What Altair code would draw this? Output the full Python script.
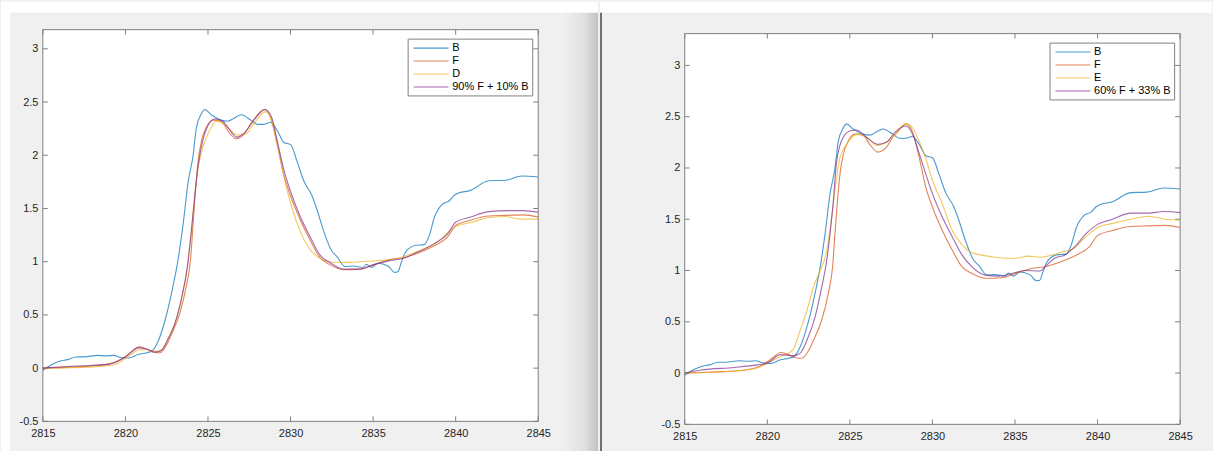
import altair as alt
import pandas as pd

# ---------------- data ----------------
X_TICKS = [2815, 2820, 2825, 2830, 2835, 2840, 2845]
Y_TICKS = [-0.5, 0, 0.5, 1, 1.5, 2, 2.5, 3]

B_E = [2815.0, 2815.5, 2816.0, 2816.5, 2817.0, 2817.5, 2818.3, 2818.8, 2819.3, 2819.7,
       2820.2, 2820.8, 2821.3, 2821.6, 2822.0, 2822.4, 2822.8, 2823.2, 2823.5, 2823.8,
       2824.1, 2824.3, 2824.6, 2824.8, 2825.2, 2825.8, 2826.2, 2826.6, 2827.0, 2827.6,
       2828.0, 2828.4, 2828.8, 2829.2, 2829.6, 2830.0, 2830.4, 2830.8, 2831.3, 2831.6,
       2832.0, 2832.5, 2832.8, 2833.3, 2833.8, 2834.4, 2834.6, 2834.9, 2835.3, 2835.9,
       2836.3, 2836.5, 2836.7, 2837.0, 2837.6, 2838.1, 2838.4, 2838.7, 2839.2, 2839.6,
       2839.9, 2840.1, 2840.9, 2842.0, 2843.0, 2844.0, 2845.0]
B_V = [-0.02, 0.03, 0.065, 0.08, 0.105, 0.106, 0.12, 0.115, 0.12, 0.10,
       0.095, 0.13, 0.145, 0.16, 0.26, 0.45, 0.71, 1.03, 1.36, 1.75,
       2.0, 2.26, 2.39, 2.43, 2.38, 2.33, 2.32, 2.35, 2.38, 2.33,
       2.29, 2.29, 2.31, 2.23, 2.12, 2.10, 1.94, 1.76, 1.62, 1.49,
       1.29, 1.10, 1.05, 0.955, 0.96, 0.945, 0.975, 0.945, 0.985, 0.96,
       0.90, 0.905, 0.99, 1.10, 1.155, 1.16, 1.245, 1.41, 1.54, 1.57,
       1.62, 1.64, 1.67, 1.76, 1.765, 1.805, 1.795]

F_E = [2815.0, 2816.0, 2817.0, 2818.0, 2819.0, 2819.5, 2820.0, 2820.4, 2820.8, 2821.2,
       2821.7, 2822.1, 2822.5, 2822.8, 2823.3, 2823.7, 2823.95, 2824.1, 2824.25, 2824.4,
       2824.6, 2824.9, 2825.3, 2825.8, 2826.2, 2826.7, 2827.2, 2827.6, 2828.0, 2828.4,
       2828.8, 2829.2, 2829.6, 2830.0, 2830.6, 2831.2, 2831.8, 2832.4, 2833.2, 2834.2,
       2835.0, 2836.0, 2836.9, 2837.7, 2838.7, 2839.5, 2840.0, 2840.9, 2842.0, 2843.1,
       2844.1, 2845.0]
F_V = [0.0, 0.005, 0.012, 0.02, 0.04, 0.065, 0.11, 0.16, 0.20, 0.185,
       0.15, 0.145, 0.22, 0.32, 0.52, 0.78, 1.03, 1.36, 1.68, 1.94,
       2.13, 2.26, 2.33, 2.32, 2.23, 2.155, 2.2, 2.3, 2.38, 2.43,
       2.35, 2.10, 1.81, 1.62, 1.39, 1.20, 1.035, 0.97, 0.925, 0.93,
       0.97, 1.02, 1.04, 1.08, 1.15, 1.23, 1.34, 1.39, 1.43, 1.435,
       1.44, 1.42]

D_E = [2815.0, 2818.0, 2819.3, 2820.0, 2820.8, 2821.2, 2821.7, 2822.1, 2822.5, 2822.9,
       2823.3, 2823.7, 2824.0, 2824.2, 2824.4, 2824.7, 2825.0, 2825.5, 2826.0, 2826.8,
       2827.3, 2827.8, 2828.5, 2828.9, 2829.3, 2829.7, 2830.1, 2830.6, 2831.2, 2831.8,
       2832.2, 2832.6, 2833.6, 2834.6, 2835.6, 2836.6, 2837.6, 2838.8, 2840.0, 2841.0,
       2842.0, 2843.0, 2843.9, 2845.0]
D_V = [0.0, 0.012, 0.03, 0.09, 0.17, 0.175, 0.16, 0.16, 0.25, 0.38,
       0.58, 0.9, 1.3, 1.62, 1.88, 2.08, 2.2, 2.32, 2.29, 2.19,
       2.2, 2.3, 2.41, 2.30, 2.02, 1.73, 1.50, 1.28, 1.11, 1.03,
       1.005, 0.995, 0.994, 1.004, 1.013, 1.035, 1.09, 1.175, 1.33, 1.37,
       1.415, 1.425, 1.40, 1.40]

MIXL_E = [2815.0, 2817.0, 2819.0, 2820.0, 2820.8, 2821.3, 2821.8, 2822.2, 2822.6, 2823.0,
          2823.4, 2823.75, 2824.0, 2824.2, 2824.4, 2824.7, 2825.0, 2825.4, 2825.9, 2826.3,
          2826.75, 2827.2, 2827.7, 2828.1, 2828.45, 2828.85, 2829.2, 2829.6, 2830.0, 2830.6,
          2831.2, 2831.8, 2832.4, 2833.2, 2834.2, 2835.0, 2836.0, 2836.9, 2837.7, 2838.7,
          2839.5, 2840.0, 2840.9, 2842.0, 2843.1, 2844.1, 2845.0]
MIXL_V = [0.0, 0.02, 0.035, 0.105, 0.19, 0.18, 0.15, 0.17, 0.28, 0.42,
          0.66, 0.95, 1.3, 1.62, 1.90, 2.15, 2.28, 2.34, 2.32, 2.24,
          2.17, 2.21, 2.31, 2.39, 2.43, 2.36, 2.13, 1.86, 1.66, 1.42,
          1.23, 1.06, 0.99, 0.93, 0.93, 0.97, 1.01, 1.035, 1.09, 1.17,
          1.26, 1.37, 1.42, 1.47, 1.48, 1.48, 1.465]

E_E = [2815.0, 2818.0, 2819.4, 2820.0, 2820.8, 2821.3, 2821.6, 2822.0, 2822.4, 2822.8,
       2823.2, 2823.6, 2823.9, 2824.2, 2824.4, 2824.8, 2825.2, 2825.5, 2826.0, 2826.7,
       2827.2, 2827.8, 2828.4, 2828.8, 2829.2, 2829.6, 2830.0, 2830.6, 2831.2, 2831.8,
       2832.3, 2833.0, 2833.8, 2834.4, 2835.0, 2835.8, 2836.6, 2837.2, 2837.8, 2838.5,
       2839.3, 2840.0, 2840.9, 2842.0, 2843.1, 2844.1, 2845.0]
E_V = [0.0, 0.02, 0.05, 0.097, 0.16, 0.195, 0.24, 0.42, 0.61, 0.84,
       1.0, 1.19, 1.52, 1.91, 2.10, 2.23, 2.31, 2.33, 2.30, 2.22,
       2.25, 2.33, 2.43, 2.39, 2.26, 2.09, 1.88, 1.65, 1.39, 1.25,
       1.18, 1.15, 1.13, 1.12, 1.12, 1.14, 1.13, 1.15, 1.18, 1.21,
       1.33, 1.42, 1.46, 1.50, 1.53, 1.50, 1.49]

MIXR_E = [2815.0, 2816.0, 2818.0, 2819.4, 2820.0, 2820.8, 2821.6, 2822.0, 2822.4, 2822.9,
          2823.3, 2823.6, 2823.8, 2824.0, 2824.2, 2824.6, 2825.0, 2825.4, 2826.0, 2826.7,
          2827.2, 2827.8, 2828.4, 2828.8, 2829.2, 2829.6, 2830.0, 2830.6, 2831.2, 2831.8,
          2832.4, 2833.2, 2834.0, 2834.8, 2835.6, 2836.5, 2836.9, 2837.4, 2838.0, 2838.7,
          2839.3, 2840.0, 2840.9, 2842.0, 2843.1, 2844.0, 2845.0]
MIXR_V = [0.0, 0.03, 0.055, 0.08, 0.097, 0.18, 0.17, 0.195, 0.32, 0.55,
          0.84, 1.10, 1.36, 1.68, 2.07, 2.30, 2.36, 2.37, 2.30, 2.23,
          2.25, 2.36, 2.41, 2.33, 2.14, 1.94, 1.75, 1.52, 1.33, 1.15,
          1.035, 0.955, 0.945, 0.97, 1.0, 0.995, 1.05, 1.12, 1.15, 1.245,
          1.36, 1.45, 1.50, 1.56, 1.56, 1.575, 1.565]

LEFT_NAMES = ["B", "F", "D", "90% F + 10% B"]
RIGHT_NAMES = ["B", "F", "E", "60% F + 33% B"]
COLORS = ["#0072BD", "#D95319", "#EDB120", "#7E2F8E"]

FONT = "Liberation Sans"
W = 497
BOX = "#808080"


def series_frame(names, pairs):
    rows = []
    for name, (es, vs) in zip(names, pairs):
        for e, v in zip(es, vs):
            rows.append({"E": e, "v": v, "s": name})
    return pd.DataFrame(rows)


def one_row():
    return pd.DataFrame({"k": [0]})


def rect(x, x2, y, y2, color):
    return alt.Chart(one_row()).mark_rect(color=color).encode(
        x=alt.value(x), x2=alt.value(x2), y=alt.value(y), y2=alt.value(y2))


def panel(names, pairs, ydom, H, top, deco):
    """top = pixel offset of the drawn box inside the plot area"""
    xs = alt.Scale(domain=[X_TICKS[0], X_TICKS[-1]], nice=False, zero=False)
    ys = alt.Scale(domain=ydom, nice=False, zero=False)
    xax = alt.Axis(values=X_TICKS, labelExpr="'' + datum.value", title=None,
                   domain=False, ticks=False, grid=False, labelPadding=6,
                   labelFlush=False, labelOverlap=False,
                   labelFont=FONT, labelFontSize=11, labelColor="#262626", zindex=1)
    yax = alt.Axis(values=Y_TICKS, labelExpr="'' + datum.value", title=None,
                   domain=False, ticks=False, grid=False, labelPadding=5,
                   labelFlush=False, labelOverlap=False,
                   labelFont=FONT, labelFontSize=11, labelColor="#262626", zindex=1)

    lines = alt.Chart(series_frame(names, pairs)).mark_line(
        strokeWidth=1.1, opacity=0.72, interpolate="monotone"
    ).encode(
        x=alt.X("E:Q", scale=xs, axis=xax),
        y=alt.Y("v:Q", scale=ys, axis=yax),
        color=alt.Color("s:N", scale=alt.Scale(domain=names, range=COLORS),
                        legend=alt.Legend(
                            orient="none", legendX=366, legendY=9 + top, title=None,
                            symbolType="M-0.6,0L5.4,0", symbolSize=136,
                            symbolStrokeWidth=1.1, symbolOpacity=0.72,
                            labelOffset=28.7, padding=3, rowPadding=1,
                            strokeColor=BOX, fillColor="white",
                            labelFont=FONT, labelFontSize=11, labelColor="#000000")),
    )

    xt = pd.DataFrame({"E": X_TICKS})
    yt = pd.DataFrame({"v": Y_TICKS})
    xt_bot = alt.Chart(xt).mark_rule(color=BOX).encode(
        x=alt.X("E:Q", scale=xs, axis=xax), y=alt.value(H), y2=alt.value(H - 5))
    xt_top = alt.Chart(xt).mark_rule(color=BOX).encode(
        x=alt.X("E:Q", scale=xs, axis=xax), y=alt.value(top), y2=alt.value(top + 5))
    yt_l = alt.Chart(yt).mark_rule(color=BOX).encode(
        y=alt.Y("v:Q", scale=ys, axis=yax), x=alt.value(0), x2=alt.value(5))
    yt_r = alt.Chart(yt).mark_rule(color=BOX).encode(
        y=alt.Y("v:Q", scale=ys, axis=yax), x=alt.value(W), x2=alt.value(W - 5))

    # white plot box with its frame
    box = alt.Chart(one_row()).mark_rect(fill="white", stroke=BOX, strokeWidth=1).encode(
        x=alt.value(0), x2=alt.value(W), y=alt.value(top), y2=alt.value(H))

    layers = deco + [box, xt_bot, xt_top, yt_l, yt_r, lines]
    return alt.layer(*layers).properties(
        width=W, height=H,
        view=alt.ViewBackground(fill="transparent", stroke="transparent"))


# Both panels have their plot-area origin at y = 28 in the page.
# left panel: origin (42, 28); box from y=28 to 421
grad = alt.LinearGradient(
    gradient="linear", x1=0, x2=1, y1=0, y2=0,
    stops=[alt.GradientStop(color="#efefef", offset=0),
           alt.GradientStop(color="#e0e0e0", offset=0.6),
           alt.GradientStop(color="#c2c2c2", offset=1)])
left_deco = [
    rect(-42, 557, -28, -17, "white"),
    rect(-42, -33, -28, 423, "white"),
    alt.Chart(one_row()).mark_rect(color=grad).encode(
        x=alt.value(523), x2=alt.value(557), y=alt.value(-17), y2=alt.value(423)),
]
left = panel(LEFT_NAMES, [(B_E, B_V), (F_E, F_V), (D_E, D_V), (MIXL_E, MIXL_V)],
             [-0.5, 3.18], 393, 0, left_deco)

# right panel: origin (684, 28); box from y=32 to 424 (4 px lower)
right_deco = [
    rect(-85, 529, -28, -17, "white"),
    rect(-85, -83, -17, 423, "#6f6f6f"),
]
right = panel(RIGHT_NAMES, [(B_E, B_V), (F_E, F_V), (E_E, E_V), (MIXR_E, MIXR_V)],
              [-0.5, 3.349], 396, 4, right_deco)

chart = alt.hconcat(left, right, spacing=0).resolve_scale(
    color="independent"
).resolve_legend(color="independent").properties(
    padding=0, background="#f0f0f0"
).configure_view(fill="white", stroke="#808080", strokeWidth=1)

chart.save("out.html", embed_options={"renderer": "svg", "actions": False})
